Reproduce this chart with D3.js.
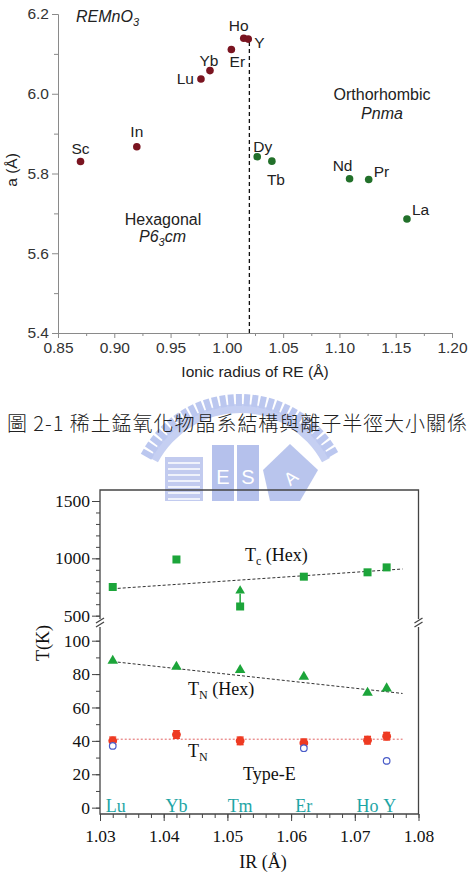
<!DOCTYPE html>
<html>
<head>
<meta charset="utf-8">
<script src="https://cdn.jsdelivr.net/npm/d3@7"></script>
<style>
  body { margin: 0; background: #fff; }
  svg { display: block; }
</style>
</head>
<body>
<svg id="fig" width="473" height="875"></svg>
<script>
// --- top chart: lattice parameter a vs ionic radius
const topNames = ['Sc', 'In', 'Lu', 'Yb', 'Er', 'Ho', 'Y', 'Dy', 'Tb', 'Nd', 'Pr', 'La'];
const topIR = [0.870, 0.920, 0.977, 0.985, 1.004, 1.015, 1.019, 1.027, 1.040, 1.109, 1.126, 1.160];
const topA = [5.830, 5.867, 6.037, 6.058, 6.111, 6.139, 6.137, 5.842, 5.831, 5.787, 5.785, 5.686];
const topPhase = ['hex', 'hex', 'hex', 'hex', 'hex', 'hex', 'hex', 'ortho', 'ortho', 'ortho', 'ortho', 'ortho'];
const topXTicks = [0.85, 0.90, 0.95, 1.00, 1.05, 1.10, 1.15, 1.20];
const topYTicks = [5.4, 5.6, 5.8, 6.0, 6.2];
const boundaryIR = 1.02;
const boundaryA = [6.13, 5.4];

// --- bottom chart: transition temperatures vs IR
const elems = ['Lu', 'Yb', 'Tm', 'Er', 'Ho', 'Y'];
const ir = [1.032, 1.042, 1.052, 1.062, 1.072, 1.075];
const tcHex = [750, 990, 580, 840, 878, 921];
const tnHex = [88, 84.4, 82.4, 78.4, 68.8, 71.4];
const tn = [40, 43.8, 40, 38.8, 40.4, 42.8];
const tnOpenIR = [1.032, 1.062, 1.075];
const tnOpen = [37, 35.6, 28];
const tcArrow = [1.052, 590, 752];
const tcFit = [[1.032, 735], [1.0775, 907]];
const tnHexFit = [[1.032, 87.5], [1.0775, 68.4]];
const tnFit = [[1.032, 41], [1.0775, 41]];
const botXTicks = [1.03, 1.04, 1.05, 1.06, 1.07, 1.08];
const upTicks = [500, 1000, 1500];
const lowTicks = [0, 20, 40, 60, 80, 100];

const svg = d3.select('#fig');

// ---------- watermark (faint logo behind caption)
const wm = svg.append('g').attr('opacity', 0.6);
const wmc = [240, 506];
wm.append('path')
  .attr('transform', `translate(${wmc})`)
  .attr('d', d3.arc()({ innerRadius: 93, outerRadius: 102, startAngle: -1.08, endAngle: 1.08 }))
  .attr('fill', '#9fb0ea');
d3.range(-1.06, 1.07, 0.075).forEach(a => {
  wm.append('rect')
    .attr('x', -3).attr('y', -112).attr('width', 6).attr('height', 12)
    .attr('fill', '#8fa2e6')
    .attr('transform', `translate(${wmc}) rotate(${a * 180 / Math.PI})`);
});
wm.append('rect').attr('x', 165).attr('y', 457).attr('width', 38).attr('height', 44).attr('fill', '#9aaae6');
d3.range(463, 500, 6).forEach(yy => {
  wm.append('line').attr('x1', 168).attr('x2', 200).attr('y1', yy).attr('y2', yy)
    .attr('stroke', '#fff').attr('stroke-width', 1.5);
});
[['E', 212], ['S', 237]].forEach(([t, x0]) => {
  wm.append('rect').attr('x', x0).attr('y', 445).attr('width', 22).attr('height', 56).attr('fill', '#8598e0');
  wm.append('text').attr('x', x0 + 11).attr('y', 484).attr('text-anchor', 'middle')
    .attr('font-family', 'Liberation Sans').attr('font-size', 20).attr('fill', '#fff').text(t);
});
wm.append('path').attr('d', 'M263,470 L290,444 L318,470 L300,501 L270,501 Z').attr('fill', '#8c9fe2');
wm.append('text').attr('x', 291).attr('y', 484).attr('text-anchor', 'middle')
  .attr('transform', 'rotate(-40,291,478)')
  .attr('font-family', 'Liberation Sans').attr('font-size', 18).attr('fill', '#fff').text('A');

// ---------- top chart
const tx = d3.scaleLinear().domain([0.85, 1.20]).range([58, 452]);
const ty = d3.scaleLinear().domain([5.4, 6.2]).range([333, 14]);
const topG = svg.append('g').attr('font-family', 'Liberation Sans, Arial, sans-serif');

function styleTopAxis(g) {
  g.selectAll('path, line').attr('stroke', '#8a8a8a');
  g.selectAll('text').attr('fill', '#333').attr('font-size', 15.5).attr('font-family', 'Liberation Sans, Arial');
}
topG.append('g').attr('transform', 'translate(0,333)')
  .call(d3.axisBottom(tx).tickValues(topXTicks.slice(0, -1).map(v => v + 0.025)).tickSize(3).tickSizeOuter(0).tickFormat(''))
  .call(styleTopAxis);
topG.append('g').attr('transform', 'translate(0,333)')
  .call(d3.axisBottom(tx).tickValues(topXTicks).tickSize(5).tickSizeOuter(0).tickFormat(d3.format('.2f')).tickPadding(4))
  .call(styleTopAxis);
topG.append('g').attr('transform', 'translate(58,0)')
  .call(d3.axisLeft(ty).tickValues(topYTicks.slice(0, -1).map(v => v + 0.1)).tickSize(4).tickSizeOuter(0).tickFormat(''))
  .call(styleTopAxis);
topG.append('g').attr('transform', 'translate(58,0)')
  .call(d3.axisLeft(ty).tickValues(topYTicks).tickSize(6).tickSizeOuter(0).tickFormat(d3.format('.1f')).tickPadding(3))
  .call(styleTopAxis);

topG.append('line')
  .attr('x1', tx(boundaryIR)).attr('x2', tx(boundaryIR))
  .attr('y1', ty(boundaryA[0])).attr('y2', ty(boundaryA[1]))
  .attr('stroke', '#111').attr('stroke-width', 1.3).attr('stroke-dasharray', '4,3');

const topColor = { hex: '#7a1420', ortho: '#22702a' };
topG.selectAll('circle.pt').data(topNames).join('circle')
  .attr('class', 'pt')
  .attr('cx', (d, i) => tx(topIR[i])).attr('cy', (d, i) => ty(topA[i]))
  .attr('r', 3.8).attr('fill', (d, i) => topColor[topPhase[i]]);

// label placement relative to each point
const topLab = {
  Sc: [0, -8, 'middle'], In: [0, -10, 'middle'], Lu: [-7, 5, 'end'], Yb: [-1, -5, 'middle'],
  Er: [6, 18, 'middle'], Ho: [-5, -7, 'middle'], Y: [6, 9, 'start'], Dy: [-4, -5, 'start'],
  Tb: [-5, 24, 'start'], Nd: [-7, -8, 'middle'], Pr: [5, -2, 'start'], La: [5, -4, 'start']
};
topG.selectAll('text.lab').data(topNames).join('text')
  .attr('class', 'lab')
  .attr('x', (d, i) => tx(topIR[i]) + topLab[d][0])
  .attr('y', (d, i) => ty(topA[i]) + topLab[d][1])
  .attr('text-anchor', d => topLab[d][2])
  .attr('font-size', 15.5).attr('fill', '#222').text(d => d);

const t1 = topG.append('text').attr('x', 76).attr('y', 22).attr('font-size', 16).attr('font-style', 'italic').attr('fill', '#222');
t1.append('tspan').text('REMnO');
t1.append('tspan').attr('dy', 4).attr('font-size', 11).text('3');
topG.append('text').attr('x', 382).attr('y', 100).attr('text-anchor', 'middle').attr('font-size', 16).attr('fill', '#222').text('Orthorhombic');
topG.append('text').attr('x', 382).attr('y', 119).attr('text-anchor', 'middle').attr('font-size', 16).attr('font-style', 'italic').attr('fill', '#222').text('Pnma');
topG.append('text').attr('x', 163).attr('y', 225).attr('text-anchor', 'middle').attr('font-size', 16).attr('fill', '#222').text('Hexagonal');
const t2 = topG.append('text').attr('x', 139).attr('y', 242).attr('font-size', 16).attr('font-style', 'italic').attr('fill', '#222');
t2.append('tspan').text('P6');
t2.append('tspan').attr('dy', 4).attr('font-size', 11).text('3');
t2.append('tspan').attr('dy', -4).text('cm');
topG.append('text').attr('transform', 'translate(17,170) rotate(-90)').attr('text-anchor', 'middle')
  .attr('font-size', 15.5).attr('fill', '#222').text('a (Å)');
topG.append('text').attr('x', 255).attr('y', 377).attr('text-anchor', 'middle')
  .attr('font-size', 15.5).attr('fill', '#222').text('Ionic radius of RE (Å)');

// ---------- caption
svg.append('text').attr('x', 7).attr('y', 431)
  .attr('font-family', 'Noto Sans CJK TC').attr('font-size', 20).attr('font-weight', 300).attr('fill', '#222')
  .attr('textLength', 460).attr('lengthAdjust', 'spacing')
  .text('圖 2-1 稀土錳氧化物晶系結構與離子半徑大小關係');

// ---------- bottom chart
const bx = d3.scaleLinear().domain([1.03, 1.08]).range([100, 418.5]);
const yUp = d3.scaleLinear().domain([436, 1596]).range([623, 490]);
const yLow = d3.scaleLinear().domain([-3.8, 110.6]).range([814, 623]);
const bot = svg.append('g').attr('font-family', 'Liberation Serif, Times New Roman, serif');
const axCol = '#444';

function styleBotAxis(g) {
  g.select('.domain').remove();
  g.selectAll('line').attr('stroke', axCol);
  g.selectAll('text').attr('fill', '#111').attr('font-size', 17.5).attr('font-family', 'Liberation Serif');
}
bot.append('g').attr('transform', 'translate(0,814)')
  .call(d3.axisBottom(bx).tickValues(d3.range(1.032, 1.08, 0.002)).tickSize(4).tickFormat(''))
  .call(styleBotAxis);
bot.append('g').attr('transform', 'translate(0,814)')
  .call(d3.axisBottom(bx).tickValues(botXTicks).tickSize(7).tickFormat(d3.format('.2f')).tickPadding(9))
  .call(styleBotAxis);
bot.append('g').attr('transform', 'translate(100,0)')
  .call(d3.axisLeft(yUp).tickValues(d3.range(500, 1501, 100)).tickSize(4).tickFormat(''))
  .call(styleBotAxis);
bot.append('g').attr('transform', 'translate(100,0)')
  .call(d3.axisLeft(yUp).tickValues(upTicks).tickSize(8).tickPadding(2).tickFormat(d3.format('d')))
  .call(styleBotAxis);
bot.append('g').attr('transform', 'translate(100,0)')
  .call(d3.axisLeft(yLow).tickValues(d3.range(0, 101, 10)).tickSize(4).tickFormat(''))
  .call(styleBotAxis);
bot.append('g').attr('transform', 'translate(100,0)')
  .call(d3.axisLeft(yLow).tickValues(lowTicks).tickSize(8).tickPadding(2).tickFormat(d3.format('d')))
  .call(styleBotAxis);

// frame with breaks
const frame = bot.append('g').attr('stroke', axCol).attr('stroke-width', 1.3).attr('fill', 'none');
frame.append('path').attr('d', 'M100,619 V490 H418.5 V619');
frame.append('path').attr('d', 'M100,627 V814 H418.5 V627');
[100, 418.5].forEach(xx => {
  frame.append('line').attr('x1', xx - 4).attr('y1', 623).attr('x2', xx + 4).attr('y2', 618);
  frame.append('line').attr('x1', xx - 4).attr('y1', 627).attr('x2', xx + 4).attr('y2', 622);
});

const line = (ys) => d3.line().x(d => bx(d[0])).y(d => ys(d[1]));
bot.append('path').attr('d', line(yUp)(tcFit)).attr('fill', 'none')
  .attr('stroke', '#333').attr('stroke-width', 1).attr('stroke-dasharray', '3,2');
bot.append('path').attr('d', line(yLow)(tnHexFit)).attr('fill', 'none')
  .attr('stroke', '#333').attr('stroke-width', 1).attr('stroke-dasharray', '3,2');
bot.append('path').attr('d', line(yLow)(tnFit)).attr('fill', 'none')
  .attr('stroke', '#e06060').attr('stroke-width', 1).attr('stroke-dasharray', '2,2');

const green = '#1ca53a';
bot.selectAll('rect.tc').data(elems).join('rect')
  .attr('class', 'tc')
  .attr('x', (d, i) => bx(ir[i]) - 4).attr('y', (d, i) => yUp(tcHex[i]) - 4)
  .attr('width', 8).attr('height', 8).attr('fill', green);

// lower-bound arrow on Tm
bot.append('line')
  .attr('x1', bx(tcArrow[0])).attr('x2', bx(tcArrow[0]))
  .attr('y1', yUp(tcArrow[1])).attr('y2', yUp(tcArrow[2]) + 7)
  .attr('stroke', green).attr('stroke-width', 1.5);
bot.append('path')
  .attr('d', d3.symbol(d3.symbolTriangle, 40)())
  .attr('transform', `translate(${bx(tcArrow[0])},${yUp(tcArrow[2]) + 4})`)
  .attr('fill', green);

bot.selectAll('path.tnh').data(elems).join('path')
  .attr('class', 'tnh')
  .attr('d', d3.symbol(d3.symbolTriangle, 48)())
  .attr('transform', (d, i) => `translate(${bx(ir[i])},${yLow(tnHex[i])})`)
  .attr('fill', green);

const red = '#ee3a22';
const tnG = bot.selectAll('g.tn').data(elems).join('g')
  .attr('class', 'tn')
  .attr('transform', (d, i) => `translate(${bx(ir[i])},${yLow(tn[i])})`);
tnG.append('line').attr('x1', -3.5).attr('x2', 3.5).attr('y1', -3.8).attr('y2', -3.8).attr('stroke', red).attr('stroke-width', 1.4);
tnG.append('line').attr('x1', -3.5).attr('x2', 3.5).attr('y1', 3.8).attr('y2', 3.8).attr('stroke', red).attr('stroke-width', 1.4);
tnG.append('circle').attr('r', 4.4).attr('fill', red);

bot.selectAll('circle.open').data(tnOpen).join('circle')
  .attr('class', 'open')
  .attr('cx', (d, i) => bx(tnOpenIR[i])).attr('cy', d => yLow(d))
  .attr('r', 3.3).attr('fill', '#fff').attr('stroke', '#4a5cc8').attr('stroke-width', 1.2);

// element names along the bottom
bot.selectAll('text.el').data(elems).join('text')
  .attr('class', 'el')
  .attr('x', (d, i) => bx(ir[i]) + (d === 'Lu' ? 3 : d === 'Y' ? 3 : 0))
  .attr('y', 812).attr('text-anchor', 'middle')
  .attr('font-size', 18).attr('fill', '#1ea5a5').text(d => d);

function subLabel(x, y, main, sub, rest) {
  const t = bot.append('text').attr('x', x).attr('y', y).attr('font-size', 18).attr('fill', '#111');
  t.append('tspan').text(main);
  t.append('tspan').attr('dy', 4).attr('font-size', 12).text(sub);
  if (rest) t.append('tspan').attr('dy', -4).text(rest);
}
subLabel(245, 561, 'T', 'c', ' (Hex)');
subLabel(188, 695, 'T', 'N', ' (Hex)');
subLabel(188, 757, 'T', 'N');
bot.append('text').attr('x', 243).attr('y', 780).attr('font-size', 18).attr('fill', '#111').text('Type-E');

bot.append('text').attr('transform', 'translate(49,643) rotate(-90)').attr('text-anchor', 'middle')
  .attr('font-size', 18).attr('fill', '#111').text('T(K)');
bot.append('text').attr('x', 263).attr('y', 868).attr('text-anchor', 'middle')
  .attr('font-size', 18).attr('fill', '#111').text('IR (Å)');
</script>
</body>
</html>
